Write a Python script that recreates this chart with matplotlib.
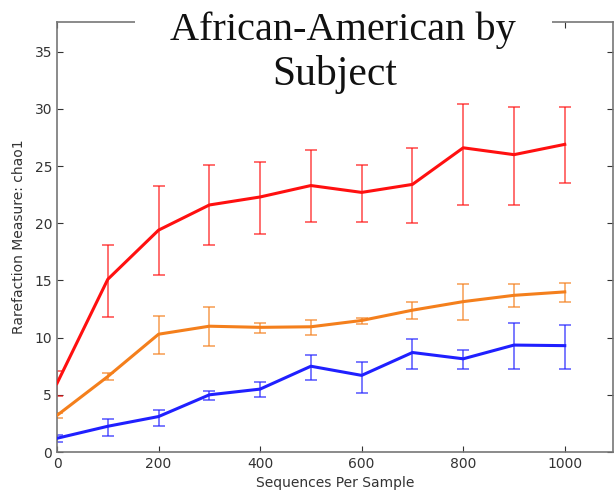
import matplotlib
matplotlib.use("Agg")
import matplotlib.pyplot as plt
from matplotlib.patches import Rectangle

seqs = [0, 100, 200, 300, 400, 500, 600, 700, 800, 900, 1000]

red_mean = [6.0, 15.1, 19.4, 21.6, 22.3, 23.3, 22.7, 23.4, 26.6, 26.0, 26.9]
red_low  = [4.9, 11.8, 15.5, 18.1, 19.1, 20.1, 20.1, 20.0, 21.6, 21.6, 23.5]
red_high = [7.1, 18.1, 23.3, 25.1, 25.4, 26.4, 25.1, 26.6, 30.4, 30.2, 30.2]

orange_mean = [3.2, 6.6, 10.3, 11.0, 10.9, 10.95, 11.5, 12.4, 13.15, 13.7, 14.0]
orange_low  = [3.0, 6.3, 8.6, 9.3, 10.4, 10.2, 11.2, 11.6, 11.55, 12.66, 13.15]
orange_high = [3.4, 6.9, 11.85, 12.7, 11.26, 11.5, 11.7, 13.1, 14.7, 14.7, 14.8]

blue_mean = [1.2, 2.25, 3.1, 5.0, 5.5, 7.5, 6.7, 8.7, 8.15, 9.35, 9.3]
blue_low  = [0.9, 1.4, 2.3, 4.55, 4.8, 6.3, 5.2, 7.3, 7.3, 7.3, 7.3]
blue_high = [1.5, 2.9, 3.7, 5.35, 6.1, 8.5, 7.9, 9.9, 8.9, 11.3, 11.1]

title_lines = ["African-American by", "Subject"]
xlabel = "Sequences Per Sample"
ylabel = "Rarefaction Measure: chao1"

fig = plt.figure(figsize=(6.14, 4.96), dpi=100)
ax = fig.add_axes([57/614, 1 - 452/496, (613-57)/614, (452-22)/496])

series = [
    (red_mean, red_low, red_high, "#ff1010"),
    (orange_mean, orange_low, orange_high, "#f47f1c"),
    (blue_mean, blue_low, blue_high, "#2020ff"),
]
for mean, low, high, col in series:
    yerr = [[m - l for m, l in zip(mean, low)], [h - m for m, h in zip(mean, high)]]
    ax.errorbar(seqs, mean, yerr=yerr, fmt="none", ecolor=col, elinewidth=1.2,
                capsize=4, capthick=1.2, alpha=0.7, zorder=2)
    ax.plot(seqs, mean, color=col, lw=2.2, zorder=3)

ax.set_xlim(0, 1095)
ax.set_ylim(0, 37.6)
ax.set_xticks([0, 200, 400, 600, 800, 1000])
ax.set_yticks([0, 5, 10, 15, 20, 25, 30, 35])
ax.tick_params(direction="in", top=True, right=True, length=4, labelsize=10,
               colors="#333333")
for s in ax.spines.values():
    s.set_color("#777777")
    s.set_linewidth(1.2)

ax.set_xlabel(xlabel, fontsize=10, color="#333333", labelpad=4)
ax.set_ylabel(ylabel, fontsize=10, color="#333333", labelpad=6)

# white band hiding the top spine behind the title
ax.add_patch(Rectangle(((135-57)/556, 0.97), (552-135)/556, 0.06,
                       transform=ax.transAxes, facecolor="white", edgecolor="none",
                       clip_on=False, zorder=4))
ax.text(0.5 + 8/556, 1 - 8/430, title_lines[0], transform=ax.transAxes, ha="center", va="center",
        fontsize=29, family="Liberation Serif", color="#111111", zorder=5)
ax.text(0.5, 1 - 53/430, title_lines[1], transform=ax.transAxes, ha="center", va="center",
        fontsize=30, family="Liberation Serif", color="#111111", zorder=5)

fig.savefig("out.png", dpi=100)
